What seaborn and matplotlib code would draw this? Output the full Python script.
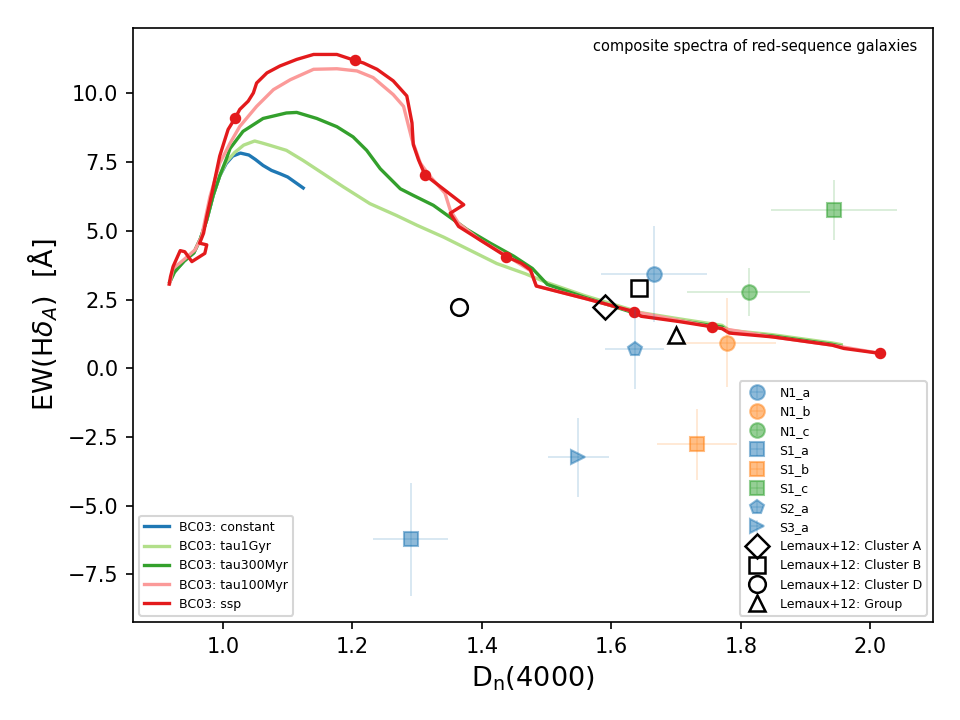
import numpy as np
import pandas as pd
import matplotlib
matplotlib.use("Agg")
import matplotlib.pyplot as plt
import seaborn as sns

# BC03 model tracks (Dn4000, EW(Hdelta_A))
const_x = [0.918, 0.925, 0.94, 0.955, 0.965, 0.975, 0.985, 0.995, 1.005, 1.015, 1.027, 1.040, 1.050, 1.062, 1.075, 1.088, 1.100, 1.112, 1.124]
const_y = [3.15, 3.5, 3.9, 4.2, 4.7, 5.4, 6.3, 7.0, 7.45, 7.72, 7.83, 7.76, 7.6, 7.38, 7.2, 7.08, 6.96, 6.76, 6.56]

tau1_x = [0.918, 0.925, 0.94, 0.955, 0.965, 0.975, 0.985, 0.995, 1.005, 1.018, 1.032, 1.049, 1.060, 1.073, 1.098, 1.124, 1.155, 1.186, 1.227, 1.268, 1.30, 1.341, 1.382, 1.423, 1.467, 1.50, 1.559, 1.646, 1.704, 1.771, 1.782, 1.849, 1.941, 1.955]
tau1_y = [3.15, 3.5, 3.9, 4.2, 4.7, 5.4, 6.3, 7.0, 7.5, 7.85, 8.12, 8.27, 8.2, 8.11, 7.93, 7.56, 7.08, 6.6, 5.99, 5.56, 5.2, 4.77, 4.29, 3.81, 3.44, 3.12, 2.64, 2.02, 1.80, 1.56, 1.38, 1.22, 0.92, 0.86]

tau300_x = [0.918, 0.925, 0.94, 0.955, 0.965, 0.975, 0.985, 0.995, 1.005, 1.011, 1.031, 1.062, 1.098, 1.114, 1.145, 1.176, 1.201, 1.222, 1.243, 1.274, 1.294, 1.325, 1.354, 1.377, 1.413, 1.449, 1.478, 1.501, 1.559, 1.646, 1.704, 1.771, 1.782, 1.849, 1.941, 1.955]
tau300_y = [3.15, 3.5, 3.9, 4.2, 4.7, 5.4, 6.3, 7.0, 7.6, 8.0, 8.62, 9.09, 9.29, 9.31, 9.09, 8.79, 8.42, 7.93, 7.26, 6.53, 6.29, 5.93, 5.44, 5.05, 4.55, 4.08, 3.63, 3.05, 2.58, 1.93, 1.73, 1.50, 1.33, 1.17, 0.87, 0.80]

tau100_x = [0.918, 0.923, 0.939, 0.957, 0.967, 0.980, 0.995, 1.011, 1.026, 1.052, 1.078, 1.104, 1.140, 1.176, 1.207, 1.232, 1.263, 1.279, 1.292, 1.305, 1.320, 1.343, 1.351, 1.364, 1.397, 1.438, 1.475, 1.484, 1.559, 1.635, 1.755, 1.849, 1.941, 2.015]
tau100_y = [3.1, 3.63, 3.94, 4.31, 4.79, 6.25, 7.46, 8.19, 8.80, 9.53, 10.14, 10.5, 10.88, 10.9, 10.82, 10.58, 9.96, 9.53, 8.32, 7.46, 6.98, 6.37, 5.76, 5.27, 4.67, 4.1, 3.55, 3.0, 2.54, 2.06, 1.51, 1.14, 0.84, 0.54]

ssp_x = [0.917, 0.919, 0.923, 0.934, 0.941, 0.952, 0.972, 0.975, 0.964, 0.970, 0.975, 0.983, 0.995, 1.003, 1.008, 1.019, 1.026, 1.039, 1.047, 1.052, 1.068, 1.088, 1.114, 1.140, 1.176, 1.204, 1.217, 1.238, 1.263, 1.284, 1.292, 1.294, 1.302, 1.312, 1.372, 1.351, 1.364, 1.397, 1.438, 1.461, 1.475, 1.484, 1.559, 1.635, 1.646, 1.704, 1.755, 1.771, 1.782, 1.849, 1.941, 1.959, 2.015]
ssp_y = [3.06, 3.33, 3.70, 4.28, 4.24, 3.88, 4.18, 4.49, 4.55, 4.91, 5.52, 6.37, 7.72, 8.32, 8.69, 9.11, 9.42, 9.72, 10.02, 10.38, 10.75, 11.0, 11.24, 11.42, 11.42, 11.2, 11.11, 10.88, 10.46, 9.91, 8.93, 8.14, 7.59, 7.04, 5.95, 5.64, 5.16, 4.67, 4.06, 3.82, 3.58, 2.99, 2.54, 2.06, 1.89, 1.70, 1.51, 1.44, 1.28, 1.14, 0.84, 0.72, 0.54]

ssp_dot_x = [1.019, 1.204, 1.312, 1.438, 1.635, 1.755, 2.015]
ssp_dot_y = [9.11, 11.2, 7.04, 4.06, 2.06, 1.51, 0.54]

# composite spectra measurements
obs_names = ["N1_a", "N1_b", "N1_c", "S1_a", "S1_b", "S1_c", "S2_a", "S3_a"]
obs_x = [1.666, 1.779, 1.812, 1.290, 1.732, 1.944, 1.636, 1.549]
obs_xerr = [0.082, 0.075, 0.095, 0.058, 0.062, 0.097, 0.046, 0.047]
obs_y = [3.43, 0.93, 2.78, -6.23, -2.77, 5.77, 0.69, -3.24]
obs_yerr = [1.75, 1.62, 0.87, 2.05, 1.30, 1.09, 1.46, 1.43]
obs_col = ["C0", "C1", "C2", "C0", "C1", "C2", "C0", "C0"]
obs_mk = ["o", "o", "o", "s", "s", "s", "p", ">"]

# Lemaux+12
lem_names = ["Cluster A", "Cluster B", "Cluster D", "Group"]
lem_x = [1.590, 1.643, 1.365, 1.700]
lem_y = [2.21, 2.91, 2.24, 1.22]
lem_mk = ["D", "s", "o", "^"]

pal = sns.color_palette("Paired")
models = [
    ("BC03: constant", const_x, const_y, pal[1]),
    ("BC03: tau1Gyr", tau1_x, tau1_y, pal[2]),
    ("BC03: tau300Myr", tau300_x, tau300_y, pal[3]),
    ("BC03: tau100Myr", tau100_x, tau100_y, pal[4]),
    ("BC03: ssp", ssp_x, ssp_y, pal[5]),
]

fig, ax = plt.subplots(figsize=(6.4, 4.8), dpi=150)

line_handles = []
for lab, xs, ys, c in models:
    df = pd.DataFrame({"x": xs, "y": ys})
    sns.lineplot(data=df, x="x", y="y", sort=False, estimator=None,
                 color=c, lw=1.6, ax=ax)
    line_handles.append(ax.lines[-1])
    line_handles[-1].set_label(lab)

ax.plot(ssp_dot_x, ssp_dot_y, "o", color=pal[5], ms=4.5, ls="none")

obs_handles = []
for n, x, xe, y, ye, c, m in zip(obs_names, obs_x, obs_xerr, obs_y, obs_yerr, obs_col, obs_mk):
    eb = ax.errorbar(x, y, xerr=xe, yerr=ye, fmt=m, color=c, ms=7, alpha=0.5,
                     elinewidth=0.8, label=n)
    for lc in eb[2]:
        lc.set_alpha(0.2)
    obs_handles.append(eb)

for n, x, y, m in zip(lem_names, lem_x, lem_y, lem_mk):
    h, = ax.plot(x, y, m, mfc="none", mec="k", mew=1.2, ms=8,
                 ls="none", label="Lemaux+12: " + n)
    obs_handles.append(h)

ax.set_xlim(0.861, 2.097)
ax.set_ylim(-9.24, 12.38)
ax.set_xlabel(r"D$_\mathrm{n}$(4000)", fontsize=13)
ax.set_ylabel(r"EW(H$\delta_A$)  [Å]", fontsize=13)

ax.text(0.98, 0.982, "composite spectra of red-sequence galaxies", transform=ax.transAxes,
        ha="right", va="top", fontsize=7)

leg1 = ax.legend(handles=line_handles, loc="lower left", fontsize=6)
ax.add_artist(leg1)
ax.legend(handles=obs_handles, loc="lower right", fontsize=6)

fig.subplots_adjust(left=0.1385, right=0.972, top=0.961, bottom=0.136)
fig.savefig("out.png", dpi=150)
